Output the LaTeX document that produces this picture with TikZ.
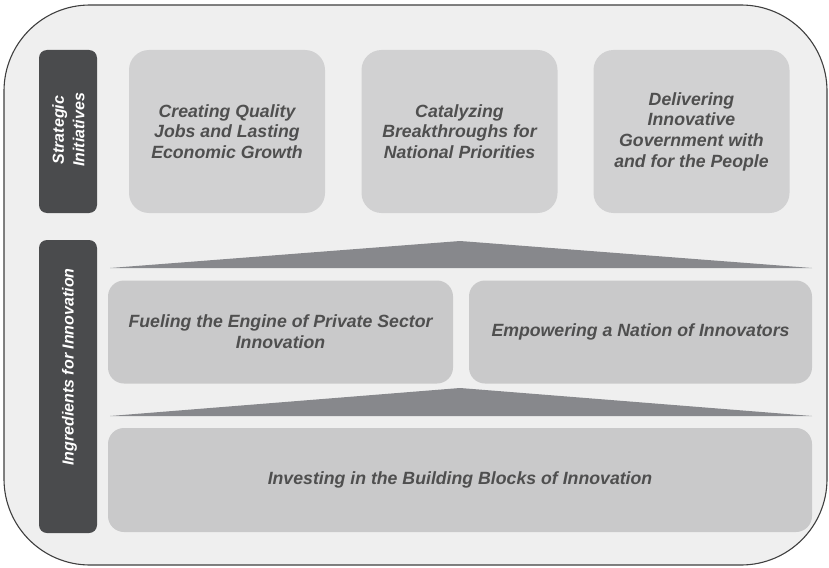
\documentclass[tikz,border=0pt]{standalone}
\usepackage{fontspec}
\setmainfont{Liberation Sans}
\usepackage{tikz, xcolor}

\definecolor{panelgray}{HTML}{EFEFEF}
\definecolor{framegray}{HTML}{3F3F3F}
\definecolor{topgray}{HTML}{D1D1D2}
\definecolor{boxgray}{HTML}{C9C9CA}
\definecolor{wedgegray}{HTML}{87888C}
\definecolor{sidegray}{HTML}{4A4B4D}
\definecolor{textgray}{HTML}{4F4F4F}

\begin{document}
\begin{tikzpicture}[x=1pt, y=-1pt,
    initiative/.style={rounded corners=20pt, fill=topgray, minimum width=196pt, minimum height=163pt, align=center, text=textgray, font=\fontsize{17.7}{20.7}\selectfont\bfseries\itshape},
    ingredient/.style={rounded corners=16pt, fill=boxgray, minimum height=103pt, align=center, text=textgray, font=\fontsize{17.7}{20.7}\selectfont\bfseries\itshape},
    sidebar/.style={rounded corners=8pt, fill=sidegray, rotate=90, minimum height=58pt},
    sidetext/.style={rotate=90, align=center, text=white, font=\fontsize{16}{20.5}\selectfont\bfseries\itshape},
    wedge/.style={fill=wedgegray}]

    \useasboundingbox (0,0) rectangle (829,567);
    \filldraw[fill=panelgray, draw=framegray, line width=1.1pt, rounded corners=86pt] (4,5) rectangle (827,565);

    % side labels
    \node[sidebar, minimum width=163pt] (strat) at (68,131.5) {};
    \node[sidetext] (strattext) at (68.5,130) {Strategic\\Initiatives};
    \node[sidebar, minimum width=293pt] (ingr) at (68,386.5) {};
    \node[sidetext] (ingrtext) at (69.5,367) {Ingredients for Innovation};

    % strategic initiatives
    \node[initiative] (jobs) at (227,131.5) {Creating Quality\\Jobs and Lasting\\Economic Growth};
    \node[initiative] (breakthroughs) at (459.5,131.5) {Catalyzing\\Breakthroughs for\\National Priorities};
    \node[initiative] (government) at (691.5,131.5) {Delivering\\Innovative\\Government with\\and for the People};

    % ingredients
    \fill[wedge] (110,268) -- (460,241) -- (812,268) -- cycle;
    \node[ingredient, minimum width=345pt] (fueling) at (280.5,332) {Fueling the Engine of Private Sector\\Innovation};
    \node[ingredient, minimum width=343pt] (empowering) at (640.5,332) {Empowering a Nation of Innovators};
    \fill[wedge] (110,416) -- (460,388) -- (812,416) -- cycle;
    \node[ingredient, minimum width=704pt, minimum height=104pt] (investing) at (460,480) {Investing in the Building Blocks of Innovation};

\end{tikzpicture}
\end{document}
